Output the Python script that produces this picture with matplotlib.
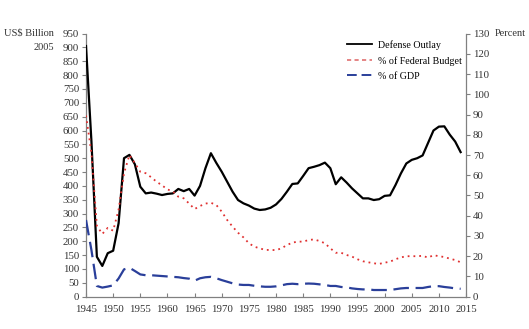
import matplotlib
matplotlib.use("Agg")
import matplotlib.pyplot as plt
from matplotlib.lines import Line2D

# ---------------------------------------------------------------------------
# Data
# ---------------------------------------------------------------------------
years = list(range(1945, 2015))

# US$ billion (2005), left axis
outlay = [905, 560, 144, 111, 157, 166, 265, 500, 512, 478, 397, 373,
          376, 372, 367, 371, 373, 389, 381, 389, 365, 400, 464, 518,
          483, 451, 415, 379, 349, 337, 329, 318, 313, 315, 321, 333,
          353, 379, 407, 409, 436, 464, 469, 475, 484, 464, 406, 431,
          412, 391, 373, 355, 355, 349, 352, 364, 366, 403, 445, 481,
          494, 500, 510, 555, 600, 614, 615, 585, 560, 522]

# percent, right axis
pct_budget = [89.5, 71, 35, 31, 34, 32.6, 43, 61, 70, 66, 61.7, 61,
              59, 56.8, 55, 53, 52, 49.4, 48.6, 46, 43.3, 44.8, 46, 46.4,
              45.3, 42, 37.9, 34.6, 31.6, 29.3, 26.4, 24.7, 23.9, 23.1, 23.1, 23,
              23.9, 25.5, 26.7, 27.2, 27.2, 28, 28.3, 27.5, 26.4, 23.9, 21.7, 21.7,
              20.6, 19.8, 18.5, 17.5, 17.0, 16.5, 16.2, 16.8, 17.3, 18.5, 19.4, 20,
              20, 20, 20.2, 19.3, 20.5, 20, 19.6, 18.8, 18.1, 17]

pct_gdp = [37.9, 23, 5.3, 4.5, 5, 5.6, 9, 13.5, 14.3, 12.7, 11, 10.6,
           10.6, 10.4, 10.2, 10, 9.8, 9.6, 9.2, 8.9, 7.9, 9.1, 9.6, 9.8,
           9.1, 8.2, 7.4, 6.6, 6, 5.8, 5.8, 5.4, 5.1, 4.9, 4.9, 5.1,
           5.6, 6.2, 6.4, 6.2, 6.4, 6.5, 6.4, 6.1, 5.8, 5.3, 5.3, 4.8,
           4.6, 4.1, 3.8, 3.6, 3.6, 3.3, 3.3, 3.3, 3.3, 3.7, 4.1, 4.3,
           4.3, 4.3, 4.3, 4.8, 5.2, 5.2, 4.8, 4.5, 4.1, 3.9]

# ---------------------------------------------------------------------------
# Plot
# ---------------------------------------------------------------------------
plt.rcParams["font.family"] = ["Liberation Serif", "DejaVu Serif"]
plt.rcParams["font.size"] = 7.5

fig = plt.figure(figsize=(5.29, 3.29), dpi=100)
ax = fig.add_axes([0.1626, 0.0982, 0.7184, 0.7998])
ax2 = ax.twinx()

grey = "#808080"
red = "#e03030"
blue = "#2a3f9a"
txt = "#333333"

ax.plot(years, outlay, color="black", lw=1.6, zorder=3)
ax2.plot(years, pct_budget, color=red, lw=1.3, linestyle=(0, (1, 2.2)))
ax2.plot(years, pct_gdp, color=blue, lw=1.6, linestyle=(0, (7, 3)))

ax.set_xlim(1945, 2015)
ax.set_ylim(0, 950)
ax2.set_ylim(0, 130)
ax.set_xticks(range(1945, 2016, 5))
ax.set_yticks(range(0, 951, 50))
ax2.set_yticks(range(0, 131, 10))

for a in (ax, ax2):
    a.spines["top"].set_visible(False)
    for s in ("left", "right", "bottom"):
        a.spines[s].set_color(grey)
        a.spines[s].set_linewidth(0.9)
ax.spines["right"].set_visible(False)
ax2.spines["left"].set_visible(False)
ax2.spines["bottom"].set_visible(False)

ax.tick_params(axis="y", direction="out", length=3, color=grey, pad=2,
               labelsize=7.8, labelcolor=txt)
ax.tick_params(axis="x", direction="in", length=3, color=grey, pad=6,
               labelsize=7.8, labelcolor=txt)
ax2.tick_params(axis="y", direction="out", length=3, color=grey, pad=2,
                labelsize=7.8, labelcolor=txt)

fig.text(54 / 529, 1 - 33.5 / 329, "US$ Billion", ha="right", va="center",
         fontsize=7.5, color=txt)
fig.text(54 / 529, 1 - 47.5 / 329, "2005", ha="right", va="center",
         fontsize=7.5, color=txt)
fig.text(495 / 529, 1 - 33.5 / 329, "Percent", ha="left", va="center",
         fontsize=7.5, color=txt)

handles = [
    Line2D([], [], color="black", lw=1.3),
    Line2D([], [], color="#e07070", lw=1.2, linestyle=(0, (2.5, 2))),
    Line2D([], [], color=blue, lw=1.4, linestyle=(0, (5, 2.5))),
]
labels = ["Defense Outlay", "% of Federal Budget", "% of GDP"]
ax2.legend(handles, labels, loc="upper left", bbox_to_anchor=(0.675, 0.99),
           frameon=False, fontsize=7.2, handlelength=2.5, handletextpad=0.6,
           labelspacing=0.6, borderaxespad=0)

fig.savefig("out.png", dpi=100)
